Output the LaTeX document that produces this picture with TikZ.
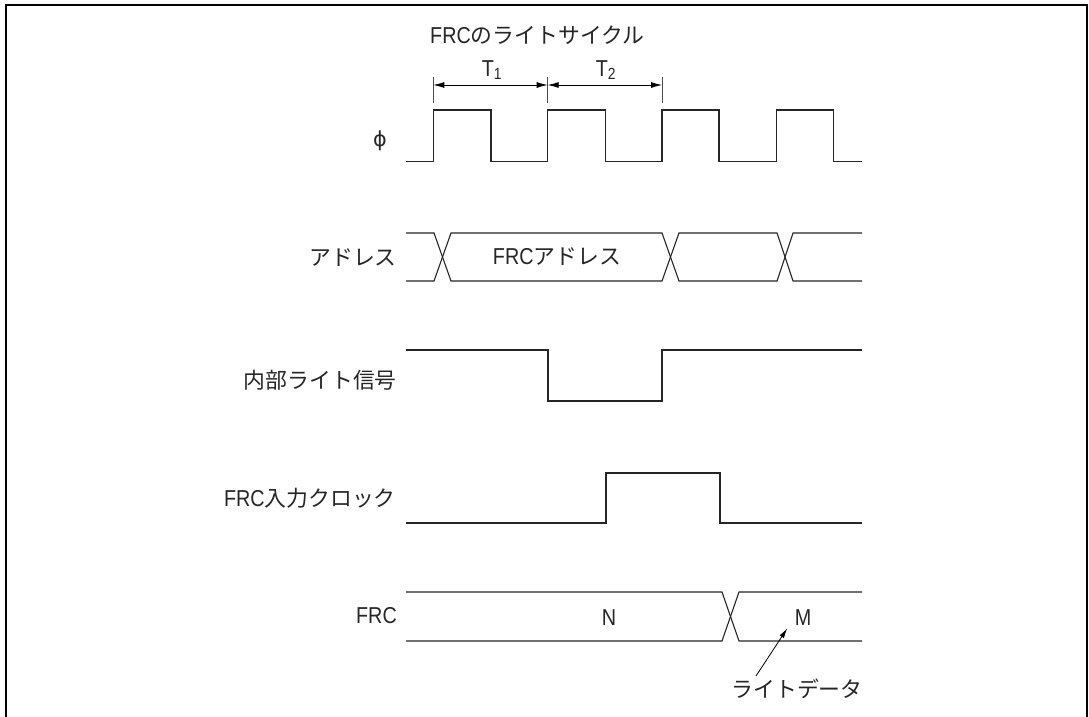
\documentclass[tikz,border=0pt]{standalone}
\usepackage{fontspec}
\setmainfont[FakeStretch=0.86]{Liberation Sans}
\newfontfamily\jp[Scale=0.95]{Noto Sans CJK JP}
\newfontfamily\dv[Scale=0.9]{DejaVu Sans}
\usetikzlibrary{arrows.meta}
\begin{document}
\begin{tikzpicture}[x=1pt,y=-1pt,
  sig/.style={line width=1.1pt, line join=miter, color=black!85},
  frame/.style={line width=2pt},
  lbl/.style={font=\fontsize{23}{26}\selectfont, inner sep=0pt, text=black!85},
  dim/.style={line width=0.8pt, {Latex[length=11pt,width=6pt]}-{Latex[length=11pt,width=6pt]}},
  tick/.style={line width=0.6pt, color=black!70},
  ptr/.style={line width=0.8pt, -{Latex[length=10pt,width=5pt]}}]
\useasboundingbox (0,0) rectangle (1089,717);
\fill[white] (0,0) rectangle (1089,717);
% frame
\draw[frame] (6,720) -- (6,5) -- (1087,5) -- (1087,720);

% title
\node[lbl, anchor=west] (title) at (430,35) {FRC{\jp のライトサイクル}};

% T1 / T2 dimension
\coordinate (t0) at (433.3,85);
\coordinate (t1) at (547.7,85);
\coordinate (t2) at (662,85);
\draw[tick] (433.3,77) -- (433.3,103);
\draw[tick] (547.7,77) -- (547.7,103);
\draw[tick] (662,77) -- (662,103);
\draw[dim] (t0) -- (t1);
\draw[dim] (t1) -- (t2);
\node[lbl] (T1) at (492,70) {T\textsubscript{1}};
\node[lbl] (T2) at (606,70) {T\textsubscript{2}};

% labels
\node[lbl] (lphi) at (380,141) {\dv ϕ};
\node[lbl, anchor=east] (laddr) at (397,258) {\jp アドレス};
\node[lbl, anchor=east] (lwr) at (397,380) {\jp 内部ライト信号};
\node[lbl, anchor=east] (lclk) at (396,498) {FRC{\jp 入力クロック}};
\node[lbl, anchor=east] (lfrc) at (397,616) {FRC};

% phi clock
\draw[sig] (406,161.7) -- (433.3,161.7) -- (433.3,110) -- (491,110) -- (491,161.7)
  -- (547.7,161.7) -- (547.7,110) -- (605.7,110) -- (605.7,161.7)
  -- (662,161.7) -- (662,110) -- (719,110) -- (719,161.7)
  -- (776.3,161.7) -- (776.3,110) -- (833.5,110) -- (833.5,161.7) -- (862,161.7);

% address bus
\draw[sig] (406,233) -- (434,233) -- (451,281) -- (662,281) -- (679,233) -- (777,233) -- (793,281) -- (862,281);
\draw[sig] (406,281) -- (434,281) -- (451,233) -- (662,233) -- (679,281) -- (777,281) -- (793,233) -- (862,233);
\node[lbl] (faddr) at (557,257) {FRC{\jp アドレス}};

% internal write signal
\draw[sig] (406,350) -- (548,350) -- (548,401) -- (662,401) -- (662,350) -- (862,350);

% FRC input clock
\draw[sig] (406,523) -- (606,523) -- (606,473) -- (720,473) -- (720,523) -- (862,523);

% FRC
\draw[sig] (406,592) -- (722,592) -- (739,641) -- (862,641);
\draw[sig] (406,641) -- (722,641) -- (739,592) -- (862,592);
\node[lbl] (vN) at (609,618) {N};
\node[lbl] (vM) at (803,618) {M};

% write data pointer
\node[lbl] (wd) at (797,689) {\jp ライトデータ};
\coordinate (wdtail) at (756,676);
\coordinate (wdtip) at (787.3,628.3);
\draw[ptr] (wdtail) -- (wdtip);
\end{tikzpicture}
\end{document}
